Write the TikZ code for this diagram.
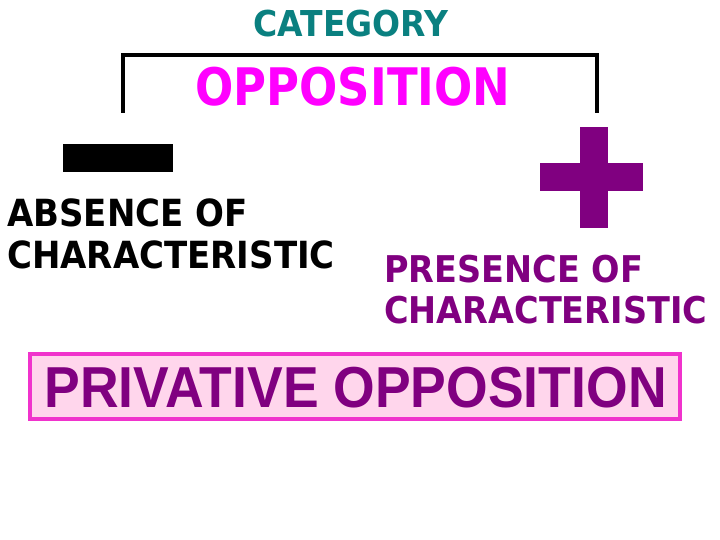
\documentclass[tikz,border=0pt]{standalone}
\usepackage{fontspec}
\setmainfont{DejaVu Sans}
\newfontfamily\arialfont{Liberation Sans}
\definecolor{tealc}{HTML}{0A8080}
\definecolor{magc}{HTML}{FF00FF}
\definecolor{purp}{HTML}{800080}
\definecolor{boxborder}{HTML}{F033CC}
\definecolor{boxfill}{HTML}{FFD6EC}
\tikzset{
  lbl/.style={inner sep=0pt, font=\bfseries},
  bracketline/.style={line width=3.5pt},
}
\begin{document}
\begin{tikzpicture}[x=1pt,y=-1pt]
\useasboundingbox (0,0) rectangle (720,540);
% title
\node[lbl, text=tealc, anchor=base, yscale=1.08, font=\bfseries\fontsize{33}{40}\selectfont] (cat) at (351,37) {CATEGORY};
% bracket
\coordinate (bl) at (123,113);
\coordinate (tl) at (123,55);
\coordinate (tr) at (597,55);
\coordinate (br) at (597,113);
\draw[bracketline] (bl) -- (tl) -- (tr) -- (br);
\node[lbl, text=magc, anchor=base, yscale=1.15, font=\bfseries\fontsize{45}{54}\selectfont] (opp) at (353,106) {OPPOSITION};
% minus
\fill[black] (63,144) rectangle (173,172);
\node[lbl, text=black, anchor=base west, align=left, yscale=1.1, font=\bfseries\fontsize{34}{38}\selectfont] (abs) at (7,268) {ABSENCE OF\\CHARACTERISTIC};
% plus
\fill[purp] (580,127) rectangle (608,228);
\fill[purp] (540,163) rectangle (643,191);
\node[lbl, text=purp, anchor=base west, align=left, yscale=1.1, font=\bfseries\fontsize{33.5}{37}\selectfont] (pres) at (384,323) {PRESENCE OF\\CHARACTERISTIC};
% box
\node[draw=boxborder, fill=boxfill, line width=4pt, minimum width=650pt, minimum height=65pt, inner sep=0pt] (box) at (355,386.5) {};
\node[inner sep=0pt, text=purp, anchor=base, yscale=1.08, font=\arialfont\bfseries\fontsize{53.5}{60}\selectfont] (priv) at (355.5,407) {PRIVATIVE OPPOSITION};
\end{tikzpicture}
\end{document}
